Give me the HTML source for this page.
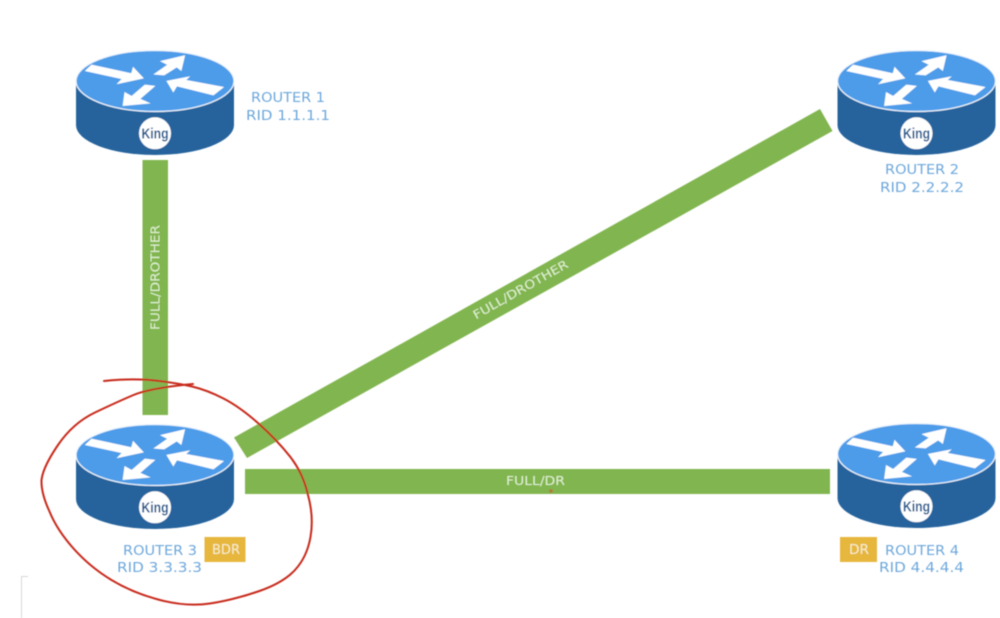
<!DOCTYPE html>
<html>
<head>
<meta charset="utf-8">
<style>
html,body{margin:0;padding:0;background:#fff;width:1000px;height:618px;overflow:hidden}
svg{display:block}
text{font-family:"DejaVu Sans","Liberation Sans",sans-serif}
.l{fill:#6ea8dc;font-size:13px}
.w{fill:#dff0cf;font-size:12px}
.k{fill:#14568f;font-size:15px;font-weight:bold;font-family:"Liberation Sans",sans-serif}
</style>
</head>
<body>
<svg width="1000" height="618" viewBox="0 0 1000 618" xmlns="http://www.w3.org/2000/svg">
<defs>
<filter id="b" x="-5%" y="-5%" width="110%" height="110%"><feGaussianBlur stdDeviation="0.5"/></filter>
<g id="r">
<path d="M-79 0V44A79 30 0 0 0 79 44V0Z" fill="#25649d"/>
<ellipse cx="0" cy="0" rx="79" ry="30.5" fill="#4e9ce9" stroke="#eef6fc" stroke-width="1.2"/>
<g fill="#fff" stroke="#fff" stroke-width="1.2" stroke-linejoin="miter">
<path d="M-69 -10.300L-63.300 -15.700L-23.300 -7L-21.700 -13L-12.300 -3L-36.700 2.300L-32.300 -2.300Z"/>
<path d="M29.300 -25L6.700 -19.700L13.300 -16.300L0 -7L9 -6.300L21.700 -14.300L26 -11Z"/>
<path d="M12.300 0.300L33.300 -3.700L30 -0.700L67.700 6.300L58.300 13.700L21.700 4.700L18.300 10.300Z"/>
<path d="M-31.700 24.300L-30 12L-23.300 15.700L-10 4.300L-1 5.300L-15.700 18L-6.700 22Z"/>
</g>
<circle cx="0" cy="52.300" r="16" fill="#fff"/>
</g>
</defs>
<rect width="1000" height="618" fill="#fff"/>
<g filter="url(#b)">
<path d="M21.500 618V576.500H28" fill="none" stroke="#d8d8d8" stroke-width="1"/>
<rect x="142.500" y="160" width="25.500" height="255" fill="#81b550"/>
<rect x="245" y="469" width="585" height="25" fill="#81b550"/>
<path d="M234 437.500L820 109L832.500 131L247 458Z" fill="#81b550"/>

<use href="#r" x="155" y="81"/>
<use href="#r" x="916.500" y="81"/>
<use href="#r" x="155" y="455"/>
<use href="#r" x="916.500" y="454"/>
<text class="k" x="141.500" y="138.500" textLength="27" lengthAdjust="spacingAndGlyphs">King</text>
<text class="k" x="903" y="138.500" textLength="27" lengthAdjust="spacingAndGlyphs">King</text>
<text class="k" x="141.500" y="512.500" textLength="27" lengthAdjust="spacingAndGlyphs">King</text>
<text class="k" x="903" y="511.500" textLength="27" lengthAdjust="spacingAndGlyphs">King</text>

<text class="l" x="251" y="102" textLength="74" lengthAdjust="spacingAndGlyphs">ROUTER 1</text>
<text class="l" x="246" y="120" textLength="84" lengthAdjust="spacingAndGlyphs">RID 1.1.1.1</text>
<text class="l" x="885" y="174" textLength="74" lengthAdjust="spacingAndGlyphs">ROUTER 2</text>
<text class="l" x="880" y="192" textLength="84" lengthAdjust="spacingAndGlyphs">RID 2.2.2.2</text>
<text class="l" x="123" y="555" textLength="74" lengthAdjust="spacingAndGlyphs">ROUTER 3</text>
<text class="l" x="117" y="572" textLength="85" lengthAdjust="spacingAndGlyphs">RID 3.3.3.3</text>
<text class="l" x="885" y="555" textLength="74" lengthAdjust="spacingAndGlyphs">ROUTER 4</text>
<text class="l" x="879" y="572" textLength="85" lengthAdjust="spacingAndGlyphs">RID 4.4.4.4</text>

<rect x="204.500" y="537" width="41" height="25" fill="#e6b63c"/>
<text x="212" y="554" fill="#f7eecd" font-size="13" textLength="28" lengthAdjust="spacingAndGlyphs">BDR</text>
<rect x="840" y="537" width="37" height="25" fill="#e6b63c"/>
<text x="849" y="554" fill="#f7eecd" font-size="13" textLength="20" lengthAdjust="spacingAndGlyphs">DR</text>

<text class="w" transform="translate(159.500 330) rotate(-90)" x="0" y="0" textLength="105" lengthAdjust="spacingAndGlyphs">FULL/DROTHER</text>
<text class="w" x="506" y="485" textLength="59" lengthAdjust="spacingAndGlyphs">FULL/DR</text>
<text class="w" transform="translate(476 319.500) rotate(-29.500)" x="0" y="0" textLength="107" lengthAdjust="spacingAndGlyphs">FULL/DROTHER</text>

<circle cx="551" cy="491" r="1.800" fill="#b5763a"/>

<path d="M193 384Q150 388 133.500 395Q117 402 95 412.500Q73 423 58 445Q43 467 41.500 480Q41 493 49.500 511.500Q57 530 73.500 548.500Q90 567 111.500 580Q133 593 160 600Q187 607 210 603.500Q233 600 258 591.500Q283 583 295 570Q307 557 310.500 537Q314 517 308 495Q303 473 290 456.500Q277 440 258.500 423.500Q240 407 223.500 398.500Q207 390 192 386.500Q177 383 155 380.500Q133 378 104 381" fill="none" stroke="#c82a1a" stroke-width="2" stroke-linecap="round"/>
</g>
</svg>
</body>
</html>
